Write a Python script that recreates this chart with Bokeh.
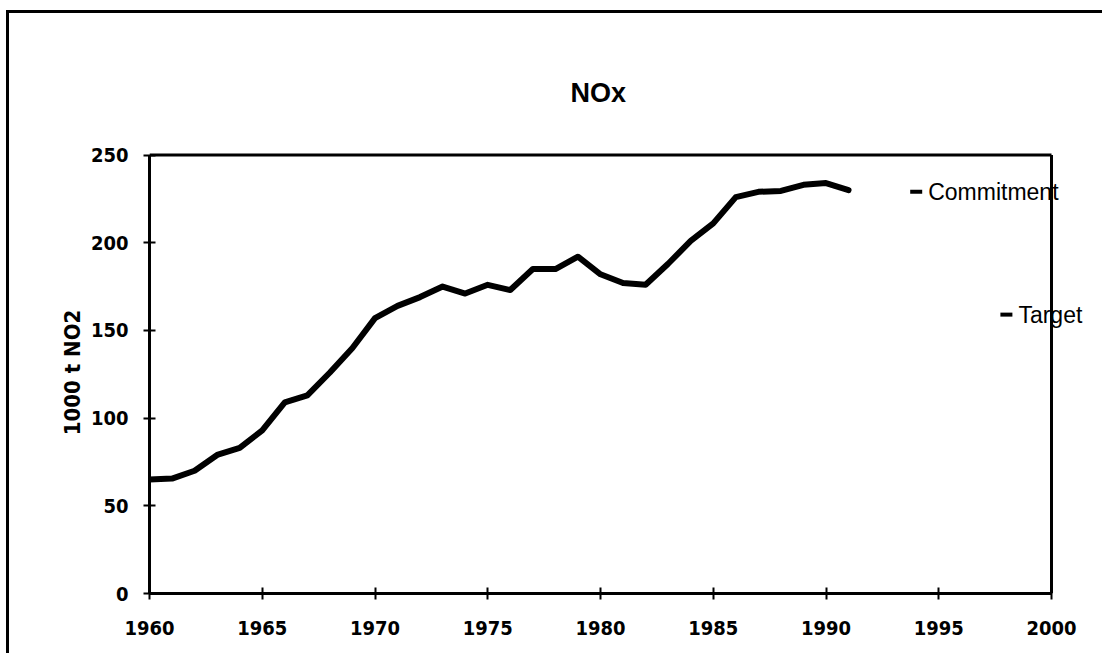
from bokeh.plotting import figure
from bokeh.models import Range1d, Label, FixedTicker
from bokeh.embed import file_html
from bokeh.resources import INLINE

# ---- data ----
years = list(range(1960, 1992))
nox = [65, 65.5, 70, 79, 83, 93, 109, 113, 126, 140,
       157, 164, 169, 175, 171, 176, 173, 185, 185, 192,
       182, 177, 176, 188, 201, 211, 226, 229, 229.5, 233,
       234, 230]
point_names = ["Commitment", "Target"]
point_years = [1994, 1998]
point_values = [229, 159]
x_ticks = [1960, 1965, 1970, 1975, 1980, 1985, 1990, 1995, 2000]
y_ticks = [0, 50, 100, 150, 200, 250]
title_text = "NOx"
y_label = "1000 t NO2"

# ---- layout geometry ----
W, H = 1102, 653
LEFT, TOP, BOTTOM = 149, 151, 60
PX_PER_YEAR = 902 / 40.0
x_end = x_ticks[0] + (W - LEFT) / PX_PER_YEAR
y_end = y_ticks[-1] + 2

TICK_FONT = "'DejaVu Sans Condensed', 'DejaVu Sans'"

p = figure(width=W, height=H, output_backend="svg", toolbar_location=None,
           x_range=Range1d(x_ticks[0], x_end), y_range=Range1d(y_ticks[0], y_end),
           min_border_left=LEFT, min_border_right=0,
           min_border_top=TOP, min_border_bottom=BOTTOM,
           background_fill_color=None, border_fill_color=None)
# outer panel frame (top and left edges visible, rest runs off the page)
p.styles = {
    "background-image": "linear-gradient(#000, #000), linear-gradient(#000, #000)",
    "background-size": "3px 100%, 100% 3px",
    "background-position": "6px 10px, 6px 10px",
    "background-repeat": "no-repeat",
}

p.title.text = title_text
p.title.align = "left"
p.title.text_font = "Liberation Sans"
p.title.text_font_style = "bold"
p.title.text_font_size = "27px"
p.title.text_color = "black"
p.title.standoff = 88
p.title.offset = 421

p.grid.visible = False
p.outline_line_color = None

for ax in (p.xaxis, p.yaxis):
    ax.axis_line_width = 3
    ax.axis_line_color = "black"
    ax.major_tick_line_width = 2
    ax.major_tick_line_color = "black"
    ax.major_tick_in = 6
    ax.major_tick_out = 6
    ax.minor_tick_line_color = None
    ax.major_label_text_font = TICK_FONT
    ax.major_label_text_font_style = "bold"
    ax.major_label_text_font_size = "20px"
    ax.major_label_text_color = "black"

p.xaxis.ticker = FixedTicker(ticks=x_ticks)
p.yaxis.ticker = FixedTicker(ticks=y_ticks)
p.xaxis.bounds = (x_ticks[0], x_ticks[-1])
p.yaxis.bounds = (y_ticks[0], y_ticks[-1])
p.xaxis.major_label_standoff = 21
p.yaxis.major_label_standoff = 15

p.yaxis.axis_label = y_label
p.yaxis.axis_label_text_font = TICK_FONT
p.yaxis.axis_label_text_font_style = "bold"
p.yaxis.axis_label_text_font_size = "22px"
p.yaxis.axis_label_text_color = "black"
p.yaxis.axis_label_standoff = 3

# top and right borders of the plot box
p.line([x_ticks[0], x_ticks[-1]], [y_ticks[-1], y_ticks[-1]], line_width=3, line_color="black")
p.line([x_ticks[-1], x_ticks[-1]], [y_ticks[0], y_ticks[-1]], line_width=3, line_color="black")

p.line(years, nox, line_width=6, line_color="black", line_join="round", line_cap="round")

p.scatter(point_years, point_values, marker="dash", size=12, line_width=4, line_color="black")
for name, yr, val in zip(point_names, point_years, point_values):
    p.add_layout(Label(x=yr, y=val, text=name, x_offset=12, text_baseline="middle",
                       text_font="Liberation Sans", text_font_size="23px",
                       text_color="black"))

open("out.html", "w").write(file_html(p, INLINE))
